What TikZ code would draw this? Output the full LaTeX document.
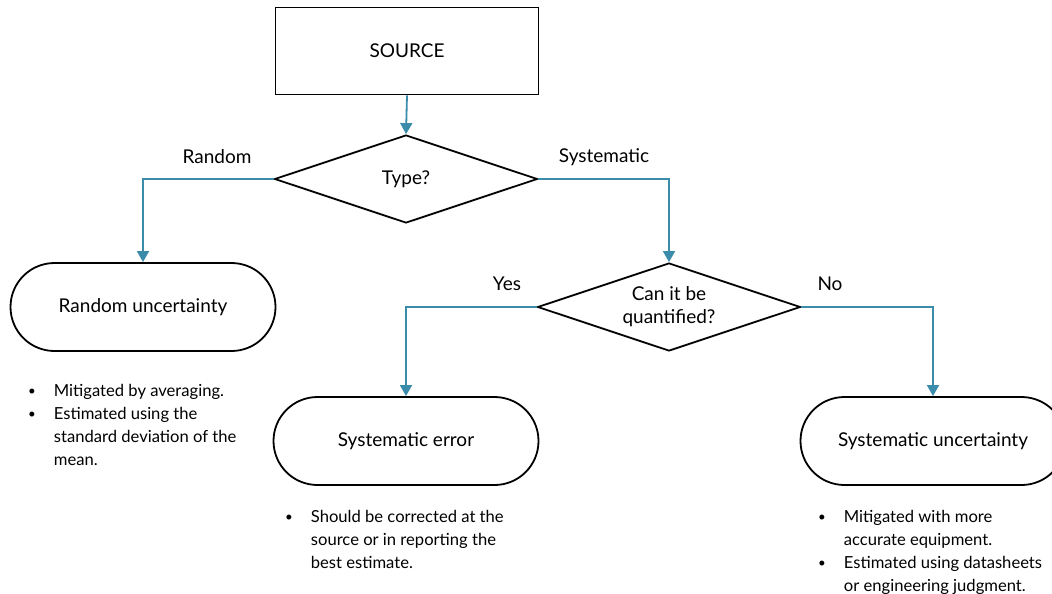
\documentclass[tikz,border=0pt]{standalone}
\usepackage{fontspec}
\setmainfont{Lato}
\usetikzlibrary{shapes.geometric,arrows.meta}
\definecolor{conncol}{HTML}{3A8CAA}
\tikzset{
  box/.style={draw=black, line width=1.8pt, minimum width=263pt, minimum height=87pt, inner sep=0pt, font=\fontsize{19}{22}\selectfont},
  decide/.style={draw=black, line width=1.8pt, shape=diamond, aspect=3, minimum width=263pt, minimum height=88pt, inner sep=0pt, align=center, font=\fontsize{19}{23}\selectfont},
  stad/.style={draw=black, line width=1.8pt, rounded corners=44pt, minimum width=265pt, minimum height=88pt, inner sep=0pt, font=\fontsize{19}{22}\selectfont},
  conn/.style={draw=conncol, line width=1.8pt, -{Triangle[length=11pt,width=12pt]}},
  lab/.style={font=\fontsize{19}{22}\selectfont, inner sep=0pt},
  blist/.style={anchor=north west, inner sep=0pt, font=\fontsize{16.6}{23}\selectfont}
}
\newcommand{\bl}{\raisebox{1pt}{\scalebox{0.8}{•}}}
\begin{document}
\begin{tikzpicture}[x=1pt,y=-1pt]
\useasboundingbox (0,0) rectangle (1052,594);
\clip (0,0) rectangle (1052,594);
\node[box] (src) at (407,51) {SOURCE};
\node[decide] (type) at (406,179) {Type?};
\node[stad] (rand) at (143,307) {Random uncertainty};
\node[decide] (quant) at (669,307) {Can it be\\quantified?};
\node[stad] (syserr) at (406,441) {Systematic error};
\node[stad] (sysunc) at (933,441) {Systematic uncertainty};

\draw[conn] (src.south) -- (type.north);
\draw[conn] (type.west) -| (rand.north);
\draw[conn] (type.east) -| (quant.north);
\draw[conn] (quant.west) -| (syserr.north);
\draw[conn] (quant.east) -| (sysunc.north);

\node[lab] (lrand) at (217,157) {Random};
\node[lab] (lsys) at (604,157) {Systematic};
\node[lab] (lyes) at (507,284) {Yes};
\node[lab] (lno) at (830,284) {No};

\node[blist] (b1) at (28,380) {\begin{tabular}{@{}l@{\hspace{18pt}}l@{}}
\bl & Mitigated by averaging.\\
\bl & Estimated using the\\
 & standard deviation of the\\
 & mean.
\end{tabular}};
\node[blist] (b2) at (285,506) {\begin{tabular}{@{}l@{\hspace{18pt}}l@{}}
\bl & Should be corrected at the\\
 & source or in reporting the\\
 & best estimate.
\end{tabular}};
\node[blist] (b3) at (818,506) {\begin{tabular}{@{}l@{\hspace{18pt}}l@{}}
\bl & Mitigated with more\\
 & accurate equipment.\\
\bl & Estimated using datasheets\\
 & or engineering judgment.
\end{tabular}};
\end{tikzpicture}
\end{document}
